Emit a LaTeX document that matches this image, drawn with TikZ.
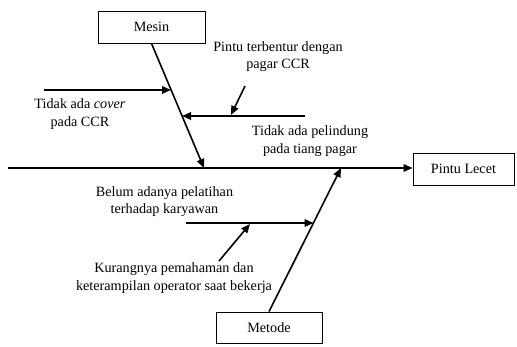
\documentclass[tikz,border=0pt]{standalone}
\usepackage{fontspec}
\setmainfont{Liberation Serif}
\usetikzlibrary{arrows.meta}
\begin{document}
\begin{tikzpicture}[x=1pt,y=-1pt,
  font=\fontsize{14.2}{17.5}\selectfont,
  box/.style={draw, line width=0.8pt, inner sep=0pt},
  bone/.style={line width=1.6pt, -{Triangle[length=9pt,width=7.5pt]}},
  lbl/.style={align=center, inner sep=0pt}]
\useasboundingbox (0,0) rectangle (517,347);
% boxes
\node[box, minimum width=107pt, minimum height=32pt] (mesin) at (151.5,27) {Mesin};
\node[box, minimum width=101pt, minimum height=32pt] (lecet) at (463.5,169) {Pintu Lecet};
\node[box, minimum width=106pt, minimum height=31pt] (metode) at (269,327.5) {Metode};
% coordinates
\coordinate (head) at (8,168);
\coordinate (mtip) at (204,168);
\coordinate (otip) at (341,168);
\coordinate (c1s) at (44,90);
\coordinate (c1t) at (171,90);
\coordinate (c2s) at (305,116);
\coordinate (c2t) at (182,116);
\coordinate (d1s) at (245,86);
\coordinate (d1t) at (231,115);
\coordinate (c3s) at (186,223);
\coordinate (c3t) at (313.5,223);
\coordinate (d2s) at (219,261);
\coordinate (d2t) at (250,224);
% main spine
\draw[bone] (head) -- (lecet.west |- head);
% category bones
\draw[bone] (mesin.south) -- (mtip);
\draw[bone] (metode.north) -- (otip);
% causes
\draw[bone] (c1s) -- (c1t);
\draw[bone] (c2s) -- (c2t);
\draw[bone] (d1s) -- (d1t);
\draw[bone] (c3s) -- (c3t);
\draw[bone] (d2s) -- (d2t);
% labels
\node[lbl] (l1) at (80,114) {Tidak ada \textit{cover}\\pada CCR};
\node[lbl] (l2) at (278,56.5) {Pintu terbentur dengan\\pagar CCR};
\node[lbl] (l3) at (310,141) {Tidak ada pelindung\\pada tiang pagar};
\node[lbl] (l4) at (164.5,201.5) {Belum adanya pelatihan\\terhadap karyawan};
\node[lbl] (l5) at (174,278) {Kurangnya pemahaman dan\\keterampilan operator saat bekerja};
\end{tikzpicture}
\end{document}
